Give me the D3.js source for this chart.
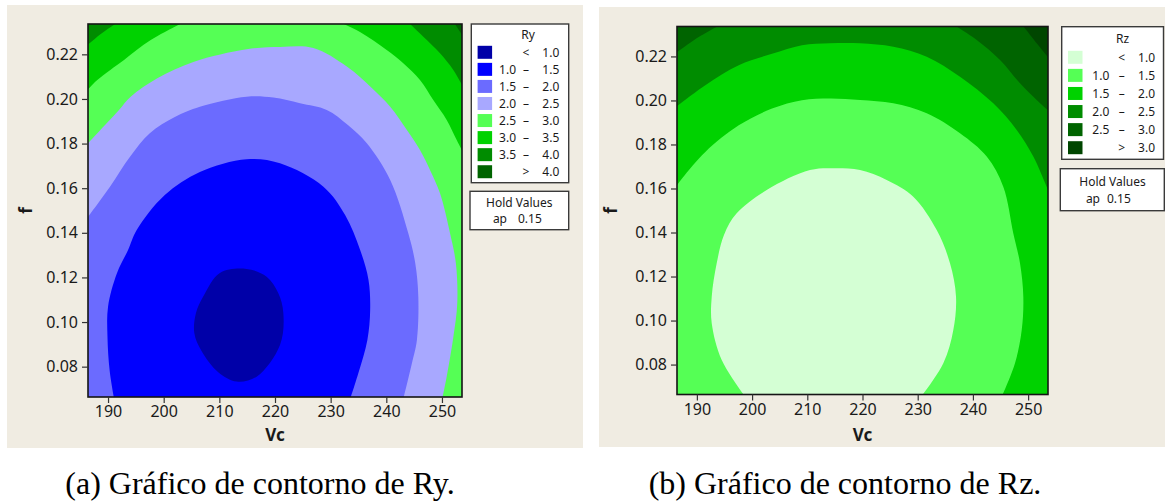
<!DOCTYPE html>
<html><head><meta charset="utf-8">
<script src="https://cdn.jsdelivr.net/npm/d3@7"></script>
<style>body{margin:0;background:#fff}svg{display:block}</style>
</head><body>
<svg id="c" width="1165" height="504"></svg>
<script>
// ---- axes ----
const vcDomain = [186.4, 253.6];
const fDomain = [0.0664, 0.2336];
const vcTicks = [190, 200, 210, 220, 230, 240, 250];
const fTicks = [0.08, 0.10, 0.12, 0.14, 0.16, 0.18, 0.20, 0.22];

// ---- Ry legend ----
const ryLevels = [1.0, 1.5, 2.0, 2.5, 3.0, 3.5, 4.0];
const ryColors = ["#0000A8", "#0000FF", "#6B6BFF", "#A8A8FF", "#55FF55", "#00D200", "#008C00", "#006400"];
const ryLow  = ["", "1.0", "1.5", "2.0", "2.5", "3.0", "3.5", ""];
const ryMid  = ["<", "–", "–", "–", "–", "–", "–", ">"];
const ryHigh = ["1.0", "1.5", "2.0", "2.5", "3.0", "3.5", "4.0", "4.0"];

// ---- Rz legend ----
const rzLevels = [1.0, 1.5, 2.0, 2.5, 3.0];
const rzColors = ["#D4FFD4", "#55FF55", "#00D200", "#008C00", "#006400", "#004600"];
const rzLow  = ["", "1.0", "1.5", "2.0", "2.5", ""];
const rzMid  = ["<", "–", "–", "–", "–", ">"];
const rzHigh = ["1.0", "1.5", "2.0", "2.5", "3.0", "3.0"];

const holdName = "ap", holdValue = "0.15";

// ---- Ry contour boundaries [Vc, f] ----
const ry10 = [[214.9,0.1238],[218.5,0.1203],[220.6,0.1129],[221.5,0.1041],[220.9,0.0897],[216.7,0.0755],[213.1,0.0733],[209.8,0.0775],[206.8,0.0870],[205.5,0.0951],[205.8,0.1040],[207.1,0.1114],[210.1,0.1220]];
const ry15 = [[191.2,0.0640],[190.3,0.0780],[189.9,0.0934],[190.0,0.1069],[191.6,0.1219],[193.6,0.1323],[195.15,0.1413],[200.2,0.1570],[206.5,0.1673],[214.9,0.1730],[220.9,0.1712],[228.7,0.1607],[232.6,0.1480],[235.3,0.1323],[236.8,0.1189],[237.1,0.1054],[236.6,0.0920],[234.97,0.0770],[233.3,0.0640]];
const ry20 = [[185.7,0.1448],[190.35,0.1607],[193.95,0.1741],[197.5,0.1846],[202.0,0.1919],[206.5,0.1965],[214.9,0.2010],[219.7,0.2006],[224.5,0.1981],[229.3,0.1951],[233.1,0.1883],[236.5,0.1801],[240.7,0.1637],[243.95,0.1398],[245.2,0.1263],[245.75,0.1114],[245.5,0.0920],[244.6,0.0815],[242.9,0.0640]];
const ry25 = [[185.7,0.1782],[189.75,0.1891],[191.97,0.1951],[194.07,0.2010],[198.85,0.2093],[205.45,0.2167],[214.9,0.2223],[220.9,0.2233],[226.9,0.2228],[232.9,0.2145],[237.4,0.2049],[240.7,0.1965],[243.7,0.1861],[246.05,0.1771],[247.85,0.1682],[249.65,0.1577],[251.45,0.1398],[252.5,0.1263],[252.75,0.1084],[252.05,0.0934],[250.85,0.0755],[249.9,0.0640]];
const ry30Left = [[185.6,0.2021],[188.07,0.2085],[192.87,0.2175],[197.67,0.2264],[204.4,0.2354]];
const ry30Right = [[230.77,0.2354],[235.27,0.2300],[240.07,0.2219],[243.05,0.2160],[246.05,0.2085],[248.44,0.1995],[250.85,0.1906],[252.65,0.1816],[254.1,0.1744]];
const ry35Left = [[185.68,0.2228],[188.7,0.2291],[192.24,0.2352]];
const ry35Right = [[243.5,0.2354],[246.65,0.2279],[249.65,0.2205],[252.04,0.2130],[254.1,0.2040]];
const ry40Right = [[251.98,0.2349],[254.1,0.2269]];

// ---- Rz contour boundaries ----
const rz10 = [[199.0,0.0645],[194.5,0.0821],[192.69,0.0988],[192.69,0.1108],[193.59,0.1260],[194.91,0.1389],[197.21,0.1487],[202.65,0.1593],[210.49,0.1684],[215.33,0.1692],[219.55,0.1684],[224.38,0.1639],[229.2,0.1563],[233.44,0.1411],[235.85,0.1260],[236.94,0.1108],[236.45,0.0957],[234.64,0.0806],[230.41,0.0647]];
const rz15 = [[185.7,0.1590],[187.31,0.1645],[191.53,0.1766],[197.58,0.1887],[203.61,0.1963],[209.04,0.2001],[214.11,0.2009],[219.55,0.2002],[225.58,0.1987],[231.63,0.1942],[237.66,0.1851],[242.5,0.1745],[245.5,0.1608],[247.31,0.1397],[248.53,0.1260],[249.13,0.1108],[248.84,0.0957],[247.62,0.0806],[245.09,0.0647]];
const rz20 = [[185.73,0.1961],[191.53,0.2069],[197.58,0.2160],[203.61,0.2212],[209.04,0.2251],[214.11,0.2260],[219.55,0.2260],[225.58,0.2244],[231.63,0.2199],[237.66,0.2108],[243.69,0.1987],[247.93,0.1866],[250.94,0.1745],[253.36,0.1608],[253.96,0.1575]];
const rz25Left = [[185.77,0.2207],[190.33,0.2288],[194.91,0.2352]];
const rz25Right = [[236.03,0.2352],[240.68,0.2275],[244.91,0.2184],[248.53,0.2078],[251.55,0.2002],[254.14,0.1943]];
const rz30Right = [[248.53,0.2356],[251.55,0.2260],[254.14,0.2179]];

// outside-of-plot closing corners (data units)
const cBR = [254.5, 0.06], cBL = [185, 0.06], cTL = [185, 0.24];

const ryContours = [
  {level: 4.0, pieces: [ry40Right], close: [cBR, cBL, cTL]},
  {level: 3.5, pieces: [ry35Left, ry35Right], close: [cBR, cBL]},
  {level: 3.0, pieces: [ry30Left, ry30Right], close: [cBR, cBL]},
  {level: 2.5, pieces: [ry25], close: [cBL]},
  {level: 2.0, pieces: [ry20], close: [cBL]},
  {level: 1.5, pieces: [ry15], close: []},
  {level: 1.0, pieces: [ry10], closed: true}
];
const rzContours = [
  {level: 3.0, pieces: [rz30Right], close: [cBR, cBL, cTL]},
  {level: 2.5, pieces: [rz25Left, rz25Right], close: [cBR, cBL]},
  {level: 2.0, pieces: [rz20], close: [cBR, cBL]},
  {level: 1.5, pieces: [rz15], close: [cBL]},
  {level: 1.0, pieces: [rz10], close: []}
];

const svg = d3.select("#c");
const BEIGE = "#F0ECE2";
const SANS = "'Noto Sans', 'DejaVu Sans', sans-serif";

svg.append("rect").attr("x", 7).attr("y", 5).attr("width", 576).attr("height", 443).attr("fill", BEIGE);
svg.append("rect").attr("x", 599).attr("y", 7).attr("width", 566).attr("height", 440).attr("fill", BEIGE);

function chart(cfg) {
  const g = svg.append("g");
  const x = d3.scaleLinear().domain(vcDomain).range([cfg.left, cfg.right]);
  const y = d3.scaleLinear().domain(fDomain).range([cfg.bottom, cfg.top]);
  const clipId = cfg.id + "-clip";
  g.append("clipPath").attr("id", clipId).append("rect")
    .attr("x", cfg.left).attr("y", cfg.top)
    .attr("width", cfg.right - cfg.left).attr("height", cfg.bottom - cfg.top);
  const plot = g.append("g").attr("clip-path", `url(#${clipId})`);
  plot.append("rect").attr("x", cfg.left - 5).attr("y", cfg.top - 5)
    .attr("width", cfg.right - cfg.left + 10).attr("height", cfg.bottom - cfg.top + 10)
    .attr("fill", cfg.colors[cfg.colors.length - 1]);
  const line = c => d3.line().x(d => x(d[0])).y(d => y(d[1])).curve(c);
  cfg.contours.forEach(c => {
    let d;
    if (c.closed) {
      d = line(d3.curveCatmullRomClosed)(c.pieces[0]);
    } else {
      d = c.pieces.map((p, i) => {
        const s = line(d3.curveCatmullRom)(p);
        return i ? "L" + s.slice(1) : s;
      }).join("");
      d += c.close.map(p => `L${x(p[0])},${y(p[1])}`).join("") + "Z";
    }
    plot.append("path").attr("d", d).attr("fill", cfg.colors[cfg.levels.indexOf(c.level)]);
  });
  g.append("rect").attr("x", cfg.left).attr("y", cfg.top)
    .attr("width", cfg.right - cfg.left).attr("height", cfg.bottom - cfg.top)
    .attr("fill", "none").attr("stroke", "#151515").attr("stroke-width", 1.6);

  const ax = g.append("g").attr("transform", `translate(0,${cfg.bottom})`)
    .call(d3.axisBottom(x).tickValues(vcTicks).tickSize(6).tickSizeOuter(0).tickPadding(3));
  const ay = g.append("g").attr("transform", `translate(${cfg.left},0)`)
    .call(d3.axisLeft(y).tickValues(fTicks).tickFormat(d3.format(".2f")).tickSize(6).tickSizeOuter(0).tickPadding(4));
  [ax, ay].forEach(a => {
    a.select(".domain").remove();
    a.selectAll("line").attr("stroke", "#333").attr("stroke-width", 1.2);
    a.selectAll("text").attr("font-family", SANS).attr("font-size", 16).attr("fill", "#1a1a1a");
  });
  g.append("text").attr("x", (cfg.left + cfg.right) / 2).attr("y", 440.5)
    .attr("text-anchor", "middle").attr("font-family", SANS).attr("font-weight", "bold")
    .attr("font-size", 17).attr("fill", "#1a1a1a").text("Vc");
  g.append("text").attr("transform", `translate(${cfg.fX},${(cfg.top + cfg.bottom) / 2}) rotate(-90)`)
    .attr("text-anchor", "middle").attr("font-family", SANS).attr("font-weight", "bold")
    .attr("font-size", 17).attr("fill", "#1a1a1a").text("f");

  // legend
  const L = cfg.legend;
  g.append("rect").attr("x", L.x).attr("y", L.y).attr("width", L.w).attr("height", L.h)
    .attr("fill", "#fff").attr("stroke", "#3a3a3a").attr("stroke-width", 1.4);
  g.append("text").attr("x", L.x + L.w / 2 + L.titleDx).attr("y", L.titleY)
    .attr("text-anchor", "middle").attr("font-family", SANS).attr("font-size", 12)
    .attr("fill", "#1a1a1a").text(cfg.name);
  cfg.colors.forEach((col, i) => {
    const cy = L.row0 + i * L.pitch;
    g.append("rect").attr("x", L.x + 6.3).attr("y", cy - 6.5).attr("width", 14.5).attr("height", 13)
      .attr("fill", col);
    const t = (xx, anchor, s) => g.append("text").attr("x", xx).attr("y", cy + 4.5)
      .attr("text-anchor", anchor).attr("font-family", SANS).attr("font-size", 12)
      .attr("fill", "#1a1a1a").text(s);
    t(L.lowX, "end", cfg.low[i]);
    t(L.midX, "middle", cfg.mid[i]);
    t(L.highX, "end", cfg.high[i]);
  });
  const H = cfg.hold;
  g.append("rect").attr("x", H.x).attr("y", H.y).attr("width", H.w).attr("height", H.h)
    .attr("fill", "#fff").attr("stroke", "#3a3a3a").attr("stroke-width", 1.4);
  g.append("text").attr("x", H.cx).attr("y", H.y1).attr("text-anchor", "middle")
    .attr("font-family", SANS).attr("font-size", 12).attr("fill", "#1a1a1a").text("Hold Values");
  g.append("text").attr("x", H.apEnd).attr("y", H.y2).attr("text-anchor", "end")
    .attr("font-family", SANS).attr("font-size", 12).attr("fill", "#1a1a1a").text(holdName);
  g.append("text").attr("x", H.valStart).attr("y", H.y2).attr("text-anchor", "start")
    .attr("font-family", SANS).attr("font-size", 12).attr("fill", "#1a1a1a").text(holdValue);
}

chart({
  id: "ry", name: "Ry", left: 88, right: 462, top: 24, bottom: 397, fX: 32,
  levels: ryLevels, colors: ryColors, contours: ryContours, low: ryLow, mid: ryMid, high: ryHigh,
  legend: {x: 471.3, y: 24, w: 97.4, h: 158.7, titleDx: 8, titleY: 39, row0: 52.3, pitch: 17.06, lowX: 516, midX: 526, highX: 559.3},
  hold: {x: 470, y: 191.3, w: 98.7, h: 38.4, cx: 519.3, y1: 206.5, y2: 222.5, apEnd: 507, valStart: 518}
});
chart({
  id: "rz", name: "Rz", left: 677, right: 1048, top: 26.5, bottom: 394.5, fX: 617,
  levels: rzLevels, colors: rzColors, contours: rzContours, low: rzLow, mid: rzMid, high: rzHigh,
  legend: {x: 1061.7, y: 26.7, w: 101.8, h: 132.6, titleDx: 10, titleY: 43.3, row0: 57.3, pitch: 18.08, lowX: 1109.3, midX: 1121.7, highX: 1155},
  hold: {x: 1060.3, y: 168.7, w: 104, h: 42, cx: 1112.5, y1: 185.5, y2: 202.7, apEnd: 1100, valStart: 1107}
});

// captions
const captions = ["(a) Gráfico de contorno de Ry.", "(b) Gráfico de contorno de Rz."];
const captionX = [260, 845];
captions.forEach((c, i) => svg.append("text").attr("x", captionX[i]).attr("y", 494)
  .attr("text-anchor", "middle").attr("font-family", "'Liberation Serif', 'Times New Roman', serif")
  .attr("font-size", 32).attr("fill", "#000").text(c));
</script>
</body></html>
